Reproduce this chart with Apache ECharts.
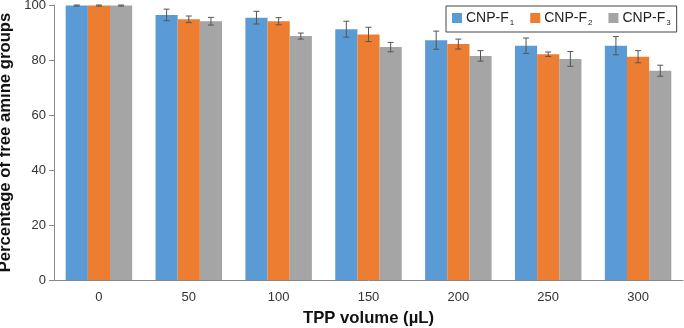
<!DOCTYPE html>
<html>
<head>
<meta charset="utf-8">
<script src="https://cdn.jsdelivr.net/npm/echarts@6/dist/echarts.min.js"></script>
<style>
  html, body { margin: 0; padding: 0; background: #fff; }
  #chart { width: 684px; height: 328px; }
</style>
</head>
<body>
<div id="chart"></div>
<script>
const volumes = ['0', '50', '100', '150', '200', '250', '300'];
const seriesNames = ['CNP-F1', 'CNP-F2', 'CNP-F3'];
const f1 = [99.8, 96.4, 95.4, 91.2, 87.2, 85.2, 85.2];
const f2 = [99.8, 94.8, 94.1, 89.3, 85.8, 82.1, 81.2];
const f3 = [99.8, 94.1, 88.7, 84.7, 81.5, 80.4, 76.1];
const f1Err = [0.2, 2.1, 2.3, 2.9, 3.3, 2.8, 3.3];
const f2Err = [0.2, 1.2, 1.3, 2.6, 1.8, 0.8, 2.2];
const f3Err = [0.2, 1.4, 1.1, 1.7, 1.9, 2.7, 2.0];
const yTicks = [0, 20, 40, 60, 80, 100];

const colors = ['#5b9bd5', '#ed7d31', '#a5a5a5'];
const means = [f1, f2, f3];
const errs = [f1Err, f2Err, f3Err];
const catGap = 0.26;
const font = "'Liberation Sans', Arial, sans-serif";

const chart = echarts.init(document.getElementById('chart'));

const errorSeries = (k) => ({
  type: 'custom',
  name: seriesNames[k] + '-err',
  z: 10,
  data: volumes.map((v, i) => [i, means[k][i], errs[k][i]]),
  renderItem: (params, api) => {
    const i = api.value(0);
    const catW = api.size([1, 0])[0];
    const bw = catW * (1 - catGap) / 3;
    const cx = api.coord([i, 0])[0] + (k - 1) * bw;
    const hi = api.coord([i, api.value(1) + api.value(2)])[1];
    const lo = api.coord([i, api.value(1) - api.value(2)])[1];
    const cap = 3;
    const style = { stroke: '#555', lineWidth: 1 };
    return {
      type: 'group',
      children: [
        { type: 'line', shape: { x1: cx, y1: hi, x2: cx, y2: lo }, style },
        { type: 'line', shape: { x1: cx - cap, y1: hi, x2: cx + cap, y2: hi }, style },
        { type: 'line', shape: { x1: cx - cap, y1: lo, x2: cx + cap, y2: lo }, style }
      ]
    };
  },
  encode: { x: 0, y: 1 },
  silent: true
});

chart.setOption({
  animation: false,
  textStyle: { fontFamily: font },
  grid: { left: 54, right: 1, top: 5, bottom: 48, containLabel: false, outerBoundsMode: 'none' },
  legend: {
    data: seriesNames,
    orient: 'horizontal',
    left: 446,
    top: 6,
    width: 400,
    padding: [5, 6, 5, 6],
    itemGap: 16,
    itemWidth: 10,
    itemHeight: 10,
    icon: 'rect',
    borderColor: '#444',
    borderWidth: 1,
    formatter: (name) => '{a|' + name.slice(0, 5) + '}{s|' + name.slice(5) + '}',
    textStyle: {
      padding: [0, 0, 0, -1],
      rich: {
        a: { fontSize: 14, color: '#222', fontFamily: font },
        s: { fontSize: 8, color: '#222', padding: [10, 0, 0, 1], fontFamily: font }
      }
    }
  },
  xAxis: {
    type: 'category',
    data: volumes,
    name: 'TPP volume (µL)',
    nameLocation: 'middle',
    nameGap: 30,
    nameTextStyle: { fontSize: 16.7, fontWeight: 'bold', color: '#111', fontFamily: font },
    axisLine: { lineStyle: { color: '#888' } },
    axisTick: { length: 5, lineStyle: { color: '#888' } },
    axisLabel: { fontSize: 13, color: '#333', margin: 11, fontFamily: font }
  },
  yAxis: {
    type: 'value',
    min: 0,
    max: 100,
    interval: 20,
    name: 'Percentage of free amine groups',
    nameLocation: 'middle',
    nameGap: 38,
    nameTextStyle: { fontSize: 16.7, fontWeight: 'bold', color: '#111', fontFamily: font },
    axisLine: { show: true, lineStyle: { color: '#888' } },
    axisTick: { show: true, length: 5, lineStyle: { color: '#888' } },
    splitLine: { show: false },
    axisLabel: {
      fontSize: 13,
      color: '#333',
      margin: 8,
      fontFamily: font,
      formatter: (v) => yTicks.includes(v) ? String(v) : ''
    }
  },
  series: [
    ...seriesNames.map((name, k) => ({
      type: 'bar',
      name,
      data: means[k],
      itemStyle: { color: colors[k] },
      barGap: '0%',
      barCategoryGap: (catGap * 100) + '%'
    })),
    errorSeries(0),
    errorSeries(1),
    errorSeries(2)
  ]
});
</script>
</body>
</html>
